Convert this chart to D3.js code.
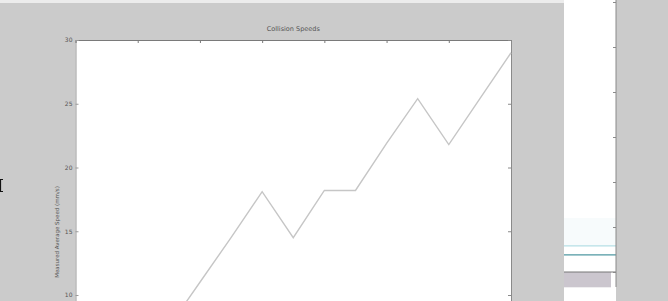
<!DOCTYPE html>
<html>
<head>
<meta charset="utf-8">
<script src="https://cdn.jsdelivr.net/npm/d3@7"></script>
<style>
  body { margin: 0; background: #cbcbcb; overflow: hidden; }
  svg { display: block; }
  text { font-family: "DejaVu Sans", sans-serif; fill: #555; }
</style>
</head>
<body>
<svg id="plot" width="668" height="301"></svg>
<script>
// main plot data
const xTicks = [0, 1, 2, 3, 4, 5, 6, 7];
const yTicks = [10, 15, 20, 25, 30];
const speedX = [1.5, 2, 2.5, 3, 3.5, 4, 4.5, 5, 5.5, 6, 6.5, 7];
const speedY = [7.5, 11, 14.5, 18.1, 14.5, 18.2, 18.2, 21.9, 25.4, 21.8, 25.4, 29];
const titleText = "Collision Speeds";
const yLabelText = "Measured Average Speed (mm/s)";

// partial second axes on the right
const sideTicks = [0, 1, 2, 3, 4, 5, 6];
const sideLevels = [0.58, 0.38];
const sideColors = ["#b6dfe6", "#4f98a2"];
const sideBlock = [0, -0.34];

const svg = d3.select("svg#plot");

// light strip along the top
svg.append("rect")
    .attr("x", 0).attr("y", 0)
    .attr("width", 564).attr("height", 3)
    .attr("fill", "#ececec");

let x = d3.scaleLinear().domain([0, 7]).range([75.5, 511]);
let y = d3.scaleLinear().domain([5, 30]).range([358.75, 40]);

// plot area
svg.append("rect")
    .attr("x", x(0)).attr("y", y(30))
    .attr("width", x(7) - x(0)).attr("height", y(5) - y(30))
    .attr("fill", "white");

svg.append("text")
    .attr("x", (x(0) + x(7)) / 2)
    .attr("y", 31)
    .style("text-anchor", "middle")
    .style("font-size", "6.5px")
    .text(titleText);

let topAxis = d3.axisTop(x).tickValues(xTicks).tickSize(-3).tickFormat("");
svg.append("g")
    .attr("transform", "translate(0, 40)")
    .call(topAxis)
    .style("color", "#7a7a7a");

let leftAxis = d3.axisLeft(y).tickValues(yTicks).tickSize(-3).tickPadding(3);
svg.append("g")
    .attr("transform", "translate(" + x(0) + ", 0)")
    .call(leftAxis)
    .style("color", "#9a9a9a")
    .selectAll("text")
    .style("font-size", "6px")
    .style("fill", "#555");

let rightAxis = d3.axisRight(y).tickValues(yTicks).tickSize(-3).tickFormat("");
svg.append("g")
    .attr("transform", "translate(" + x(7) + ", 0)")
    .call(rightAxis)
    .style("color", "#8a8a8a");

svg.append("text")
    .attr("transform", "translate(59, 232) rotate(-90)")
    .style("text-anchor", "middle")
    .style("font-size", "5.5px")
    .text(yLabelText);

let line = d3.line()
    .x((d, i) => x(speedX[i]))
    .y(d => y(d));

svg.append("path")
    .datum(speedY)
    .attr("d", line)
    .attr("fill", "none")
    .attr("stroke", "#c6c6c6")
    .attr("stroke-width", 1.4);

// cut-off mark at the left edge
svg.append("path")
    .attr("d", "M0,179.5 h3 M0,191.5 h3 M0.5,179 v13")
    .attr("stroke", "#111")
    .attr("stroke-width", 1.2);

// right-hand axes
let sy = d3.scaleLinear().domain([0, 6]).range([272, 2]);
let sx0 = 564, sx1 = 616;

svg.append("rect")
    .attr("x", sx0).attr("y", 0)
    .attr("width", sx1 - sx0).attr("height", 301)
    .attr("fill", "white");

svg.append("rect")
    .attr("x", sx0).attr("y", sy(1.2))
    .attr("width", sx1 - sx0).attr("height", sy(sideLevels[0]) - sy(1.2))
    .attr("fill", "#f7fbfc");

svg.append("rect")
    .attr("x", sx0).attr("y", sy(sideBlock[0]))
    .attr("width", sx1 - sx0 - 5).attr("height", sy(sideBlock[1]) - sy(sideBlock[0]))
    .attr("fill", "#cbc6ce");

svg.append("line")
    .attr("x1", sx0).attr("x2", sx1)
    .attr("y1", sy(0)).attr("y2", sy(0))
    .attr("stroke", "#777");

sideLevels.forEach((v, i) => {
    svg.append("line")
        .attr("x1", sx0).attr("x2", sx1)
        .attr("y1", sy(v)).attr("y2", sy(v))
        .attr("stroke", sideColors[i])
        .attr("stroke-width", 1.2);
});

svg.append("line")
    .attr("x1", sx1).attr("x2", sx1)
    .attr("y1", 0).attr("y2", 287)
    .attr("stroke", "#8a8a8a");

let sideAxis = d3.axisLeft(sy).tickValues(sideTicks).tickSize(3).tickFormat("");
svg.append("g")
    .attr("transform", "translate(" + sx1 + ", 0)")
    .call(sideAxis)
    .style("color", "#8a8a8a")
    .select(".domain").remove();
</script>
</body>
</html>
